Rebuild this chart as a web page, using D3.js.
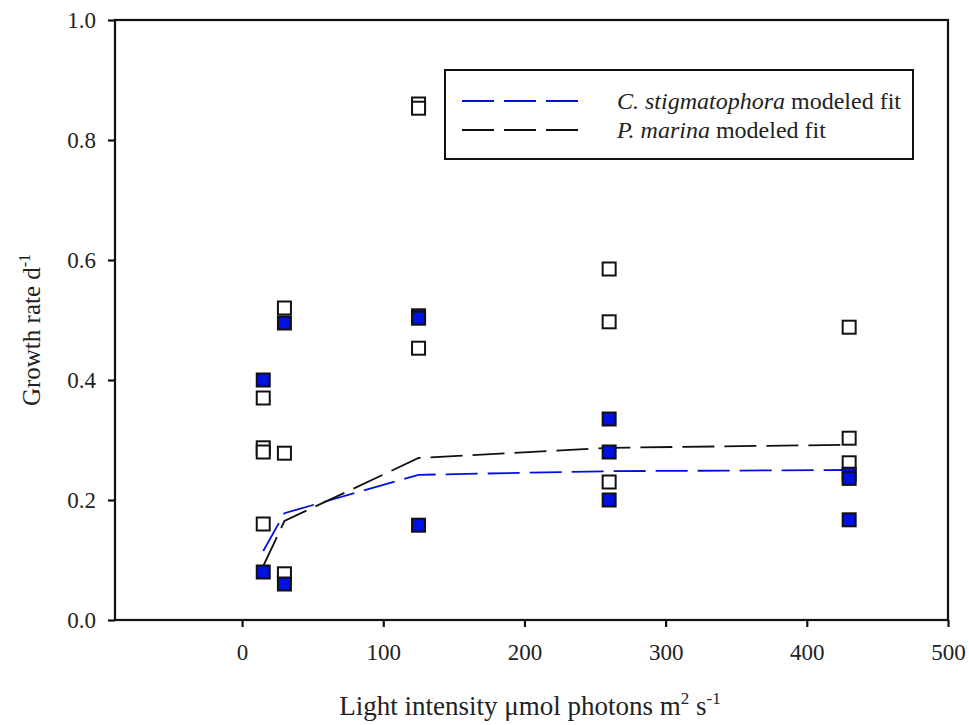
<!DOCTYPE html>
<html>
<head>
<meta charset="utf-8">
<script src="https://cdn.jsdelivr.net/npm/d3@7"></script>
<style>
  html, body { margin: 0; padding: 0; background: #fff; }
  svg { display: block; }
  text { font-family: "Liberation Serif", "Times New Roman", serif; fill: #222; }
</style>
</head>
<body>
<svg id="chart" width="969" height="725"></svg>
<script>
// Observed growth rates (open squares: P. marina, filled squares: C. stigmatophora)
const marinaLight = [15, 15, 15, 15, 30, 30, 30, 125, 125, 125, 260, 260, 260, 430, 430, 430];
const marinaRate  = [0.37, 0.287, 0.28, 0.16, 0.52, 0.278, 0.077, 0.86, 0.853, 0.453, 0.585, 0.497, 0.23, 0.488, 0.303, 0.262];

const stigmaLight = [15, 15, 30, 30, 125, 125, 125, 260, 260, 260, 430, 430, 430];
const stigmaRate  = [0.40, 0.08, 0.495, 0.06, 0.507, 0.503, 0.158, 0.335, 0.28, 0.2, 0.243, 0.236, 0.167];

// Modeled fits evaluated at the light levels
const fitLight  = [15, 30, 125, 260, 430];
const stigmaFit = [0.115, 0.178, 0.242, 0.248, 0.25];
const marinaFit = [0.09, 0.165, 0.27, 0.287, 0.292];

const xTicks = [0, 100, 200, 300, 400, 500];
const yTicks = [0.0, 0.2, 0.4, 0.6, 0.8, 1.0];

const svg = d3.select("#chart");
const margin = { left: 115, top: 20, right: 21, bottom: 105 };
const W = 969, H = 725;

const x = d3.scaleLinear().domain([-90, 500]).range([margin.left, W - margin.right]);
const y = d3.scaleLinear().domain([0, 1]).range([H - margin.bottom, margin.top]);

const blue = "#0010e0";

// Frame
svg.append("rect")
  .attr("x", x(-90)).attr("y", y(1))
  .attr("width", x(500) - x(-90)).attr("height", y(0) - y(1))
  .attr("fill", "none").attr("stroke", "#111").attr("stroke-width", 2.2);

// Axes
const xAxis = d3.axisBottom(x).tickValues(xTicks).tickFormat(d3.format("d")).tickSize(7).tickPadding(17);
const gx = svg.append("g").attr("transform", `translate(0,${y(0)})`).call(xAxis);
const yAxis = d3.axisLeft(y).tickValues(yTicks).tickFormat(d3.format(".1f")).tickSize(7).tickPadding(12);
const gy = svg.append("g").attr("transform", `translate(${x(-90)},0)`).call(yAxis);
[gx, gy].forEach(g => {
  g.select(".domain").remove();
  g.selectAll(".tick line").attr("stroke", "#111").attr("stroke-width", 2.2);
  g.selectAll(".tick text").style("font-family", "Liberation Serif, serif").style("font-size", "23px").attr("fill", "#222");
});

// Fit lines
const line = d3.line().x((d, i) => x(fitLight[i])).y(d => y(d));
svg.append("path").datum(stigmaFit).attr("d", line)
  .attr("fill", "none").attr("stroke", blue).attr("stroke-width", 1.8)
  .attr("stroke-dasharray", "32,10");
svg.append("path").datum(marinaFit).attr("d", line)
  .attr("fill", "none").attr("stroke", "#111").attr("stroke-width", 1.8)
  .attr("stroke-dasharray", "32,10");

// Markers
const s = 13;
function squares(xs, ys, fill) {
  svg.append("g").selectAll("rect").data(ys).join("rect")
    .attr("x", (d, i) => x(xs[i]) - s / 2)
    .attr("y", d => y(d) - s / 2)
    .attr("width", s).attr("height", s)
    .attr("fill", fill).attr("stroke", "#111").attr("stroke-width", 2);
}
squares(marinaLight, marinaRate, "#fff");
squares(stigmaLight, stigmaRate, blue);

// Legend
const lg = svg.append("g");
lg.append("rect").attr("x", 445).attr("y", 70).attr("width", 468).attr("height", 89)
  .attr("fill", "#fff").attr("stroke", "#111").attr("stroke-width", 2);
const legendItems = [
  { color: blue, italic: "C. stigmatophora", rest: " modeled fit", yy: 101 },
  { color: "#111", italic: "P. marina", rest: " modeled fit", yy: 130 }
];
legendItems.forEach(it => {
  lg.append("line").attr("x1", 462).attr("x2", 578).attr("y1", it.yy).attr("y2", it.yy)
    .attr("stroke", it.color).attr("stroke-width", 1.8).attr("stroke-dasharray", "32,10");
  const t = lg.append("text").attr("x", 617).attr("y", it.yy + 8).style("font-size", "24px");
  t.append("tspan").style("font-style", "italic").text(it.italic);
  t.append("tspan").text(it.rest);
});

// Axis titles
const xt = svg.append("text").attr("x", 530).attr("y", 715).attr("text-anchor", "middle").style("font-size", "27px");
xt.append("tspan").text("Light intensity \u03bcmol photons m");
xt.append("tspan").attr("dy", -11).style("font-size", "17px").text("2");
xt.append("tspan").attr("dy", 11).text(" s");
xt.append("tspan").attr("dy", -11).style("font-size", "17px").text("-1");

const yt = svg.append("text").attr("transform", "translate(40,330) rotate(-90)")
  .attr("text-anchor", "middle").style("font-size", "25px");
yt.append("tspan").text("Growth rate d");
yt.append("tspan").attr("dy", -10).style("font-size", "16px").text("-1");
</script>
</body>
</html>
